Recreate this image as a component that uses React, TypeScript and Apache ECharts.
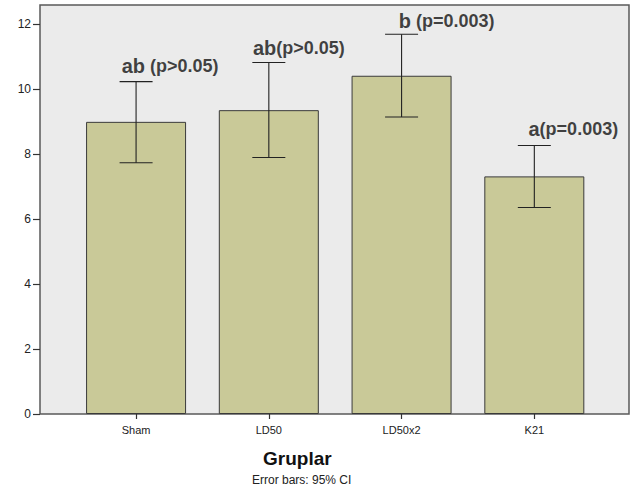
import React, { useEffect, useRef } from "react";
import * as echarts from "echarts";

const categories = ["Sham", "LD50", "LD50x2", "K21"];
const means = [9.0, 9.36, 10.42, 7.32];
const ciLow = [7.74, 7.9, 9.15, 6.36];
const ciHigh = [10.24, 10.83, 11.7, 8.27];
const yTicks = [0, 2, 4, 6, 8, 10, 12];
const annLetters = ["ab", "ab", "b", "a"];
const annP = [" (p>0.05)", "(p>0.05)", " (p=0.003)", "(p=0.003)"];
const annY = [10.72, 11.26, 12.1, 8.78];
const labelDx = [34, 30, 45, 39];

export default function App() {
  const ref = useRef<HTMLDivElement>(null);
  useEffect(() => {
    if (!ref.current) return;
    const chart = echarts.init(ref.current, null, { renderer: "svg" });
    const yMax = 12.6;
    chart.setOption({
      animation: false,
      textStyle: { fontFamily: "Liberation Sans, Arial, sans-serif" },
      grid: [
        {
          left: 40,
          top: 5,
          right: 4,
          bottom: 79,
          show: true,
          backgroundColor: "#ebebeb",
          borderColor: "#5a5a5a",
          borderWidth: 1.5,
        },
        { left: 69.7, top: 5, width: 531, bottom: 79 },
      ],
      xAxis: [
        { type: "value", gridIndex: 0, min: 0, max: 1, show: false },
        {
          type: "category",
          gridIndex: 1,
          data: categories,
          axisLine: { show: false },
          axisTick: {
            show: true,
            alignWithLabel: true,
            length: 5,
            lineStyle: { color: "#333", width: 1.2 },
          },
          axisLabel: { color: "#222", fontSize: 11, margin: 10 },
          splitLine: { show: false },
        },
      ],
      yAxis: [
        {
          type: "value",
          gridIndex: 0,
          min: 0,
          max: yMax,
          axisLine: { show: false },
          axisTick: {
            show: true,
            length: 7,
            customValues: yTicks,
            lineStyle: { color: "#333", width: 1.2 },
          },
          axisLabel: {
            customValues: yTicks,
            color: "#222",
            fontSize: 12,
            margin: 9,
          },
          splitLine: { show: false },
        },
        {
          type: "value",
          gridIndex: 1,
          min: 0,
          max: yMax,
          show: false,
        },
      ],
      series: [
        {
          type: "bar",
          xAxisIndex: 1,
          yAxisIndex: 1,
          data: means,
          barWidth: 100,
          itemStyle: {
            color: "#c9c998",
            borderColor: "#3a3a3a",
            borderWidth: 1,
          },
          z: 2,
        },
        {
          type: "custom",
          xAxisIndex: 1,
          yAxisIndex: 1,
          data: categories.map((_, i) => [i, ciLow[i], ciHigh[i]]),
          z: 3,
          renderItem: (params: any, api: any) => {
            const x = api.value(0);
            const lo = api.coord([x, api.value(1)]);
            const hi = api.coord([x, api.value(2)]);
            const hw = 16.5;
            const style = { stroke: "#222", lineWidth: 1.1 };
            return {
              type: "group",
              children: [
                { type: "line", shape: { x1: lo[0], y1: lo[1], x2: hi[0], y2: hi[1] }, style },
                { type: "line", shape: { x1: hi[0] - hw, y1: hi[1], x2: hi[0] + hw, y2: hi[1] }, style },
                { type: "line", shape: { x1: lo[0] - hw, y1: lo[1], x2: lo[0] + hw, y2: lo[1] }, style },
              ],
            };
          },
        },
        {
          type: "scatter",
          xAxisIndex: 1,
          yAxisIndex: 1,
          symbolSize: 0,
          z: 4,
          data: categories.map((c, i) => ({
            value: [i, annY[i]],
            label: {
              show: true,
              position: "inside",
              offset: [labelDx[i], 0],
              color: "#111",
              textBorderWidth: 0,
              formatter: `{a|${annLetters[i]}}{p|${annP[i]}}`,
              rich: {
                a: { fontSize: 20, fontWeight: "bold", color: "#111", textBorderWidth: 0 },
                p: { fontSize: 18, fontWeight: "bold", color: "#111", textBorderWidth: 0 },
              },
            },
          })),
        },
      ],
      graphic: [
        {
          type: "text",
          left: 263,
          top: 449,
          style: {
            text: "Gruplar",
            fontSize: 19,
            fontWeight: "bold",
            fill: "#111",
            fontFamily: "Liberation Sans, Arial, sans-serif",
          },
        },
        {
          type: "text",
          left: 252,
          top: 474,
          style: {
            text: "Error bars: 95% CI",
            fontSize: 12,
            fill: "#222",
            fontFamily: "Liberation Sans, Arial, sans-serif",
          },
        },
      ],
    });
    return () => chart.dispose();
  }, []);
  return <div ref={ref} style={{ width: 633, height: 493, position: "absolute", left: 0, top: 0 }} />;
}
